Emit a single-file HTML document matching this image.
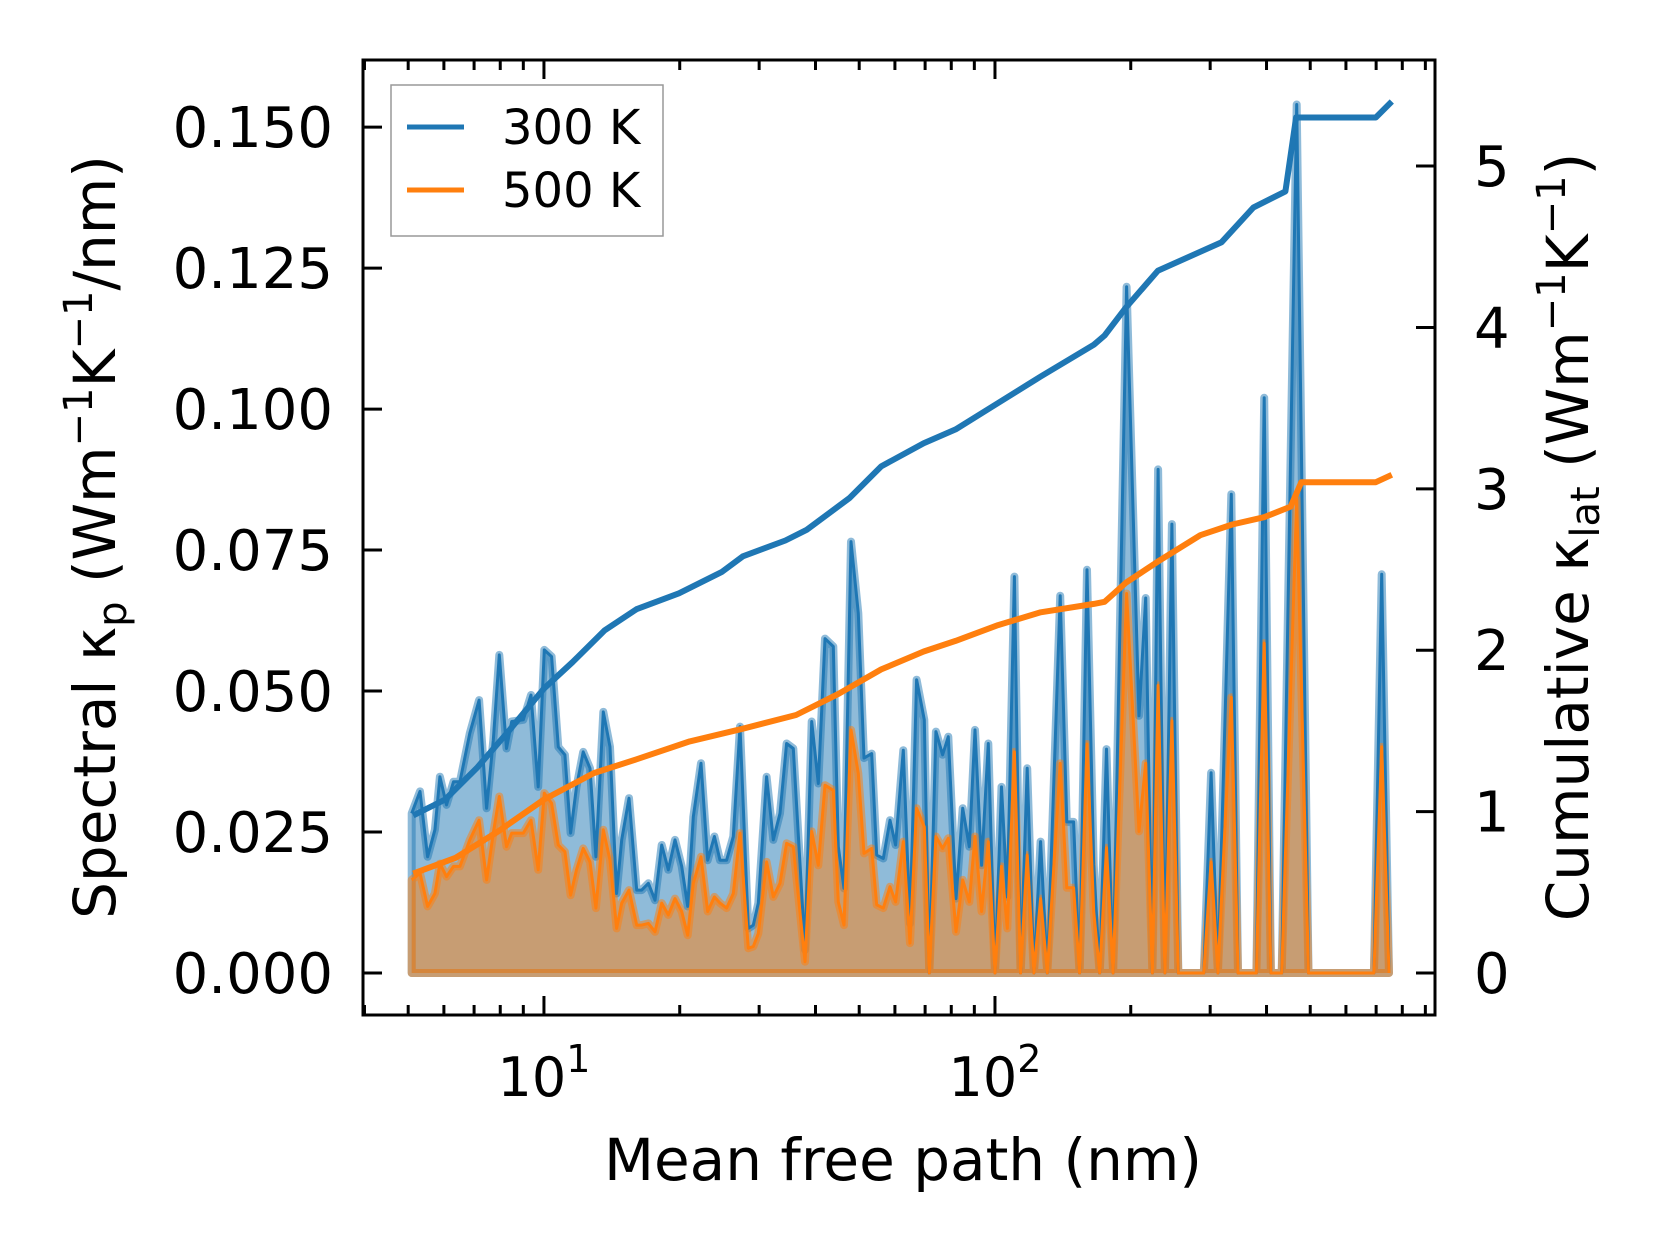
<!DOCTYPE html>
<html><head><meta charset="utf-8"><style>
html,body{margin:0;padding:0;background:#fff;}
svg{display:block;font-family:"DejaVu Sans","Liberation Sans",sans-serif;}
</style></head><body>
<svg id="chart" width="1660" height="1254" viewBox="0 0 1660 1254">
<g id="plot"></g>
<g id="axes"></g>
</svg>
<script>
// Spectral data (mean free path in nm, spectral kappa)
const mfp = [5.09,5.31,5.52,5.73,5.88,6.08,6.30,6.51,6.85,7.18,7.46,7.72,7.96,8.26,8.48,9.00,9.36,9.71,10.02,10.40,10.76,11.13,11.46,11.81,12.22,12.65,13.04,13.54,14.01,14.49,14.87,15.44,16.06,16.47,17.04,17.63,18.24,18.87,19.52,20.20,20.83,21.44,22.29,23.07,23.87,
24.56,25.41,26.29,27.20,28.38,29.12,29.87,31.17,32.25,33.37,34.51,35.71,37.91,39.23,40.58,41.98,43.80,44.94,46.26,47.94,49.77,51.23,53.28,54.66,56.55,58.50,60.22,62.62,64.79,67.04,69.72,71.51,73.98,76.55,78.80,81.95,84.79,87.73,90.30,93.41,96.65,100.0,103.4,106.5,110.4,114.0,117.9,122.0,126.2,130.6,
139.5,144.3,149.4,154.0,160.0,165.5,170.7,176.7,182.8,195.8,208.6,215.9,223.4,230.0,238.1,246.8,254.9,290.4,301.5,312.0,334.2,345.8,379.9,395.2,409.0,432.2,466.7,495.5,692.0,720.0,747.4];
const spec300 = [.0283,.0322,.0206,.0254,.0348,.0298,.0339,.0339,.0425,.0484,.0292,.0413,.0564,.0398,.0446,.0449,.0493,.0330,.0573,.0561,.0401,.0387,.0248,.0330,.0392,.0363,.0206,.0463,.0401,.0141,.0236,.0310,.0147,.0147,.0159,.0129,.0227,.0183,.0236,.0189,.0118,.0277,.0372,.0200,.0242,
.0200,.0200,.0242,.0437,.0079,.0085,.0124,.0348,.0236,.0283,.0407,.0398,.0041,.0446,.0336,.0593,.0579,.0224,.0150,.0765,.0638,.0381,.0389,.0209,.0203,.0271,.0227,.0395,.0088,.0520,.0449,0,.0428,.0387,.0419,.0132,.0292,.0224,.0431,.0191,.0407,0,.0330,.0135,.0703,0,.0363,0,.0233,0,
.0669,.0268,.0268,0,.0715,.0192,0,.0397,0,.1217,.0456,.0665,0,.0893,0,.0796,0,0,.0355,0,.0849,0,0,.1020,0,0,.1540,0,0,.0707,0];
const spec500 = [.0165,.0177,.0118,.0141,.0194,.0171,.0189,.0189,.0236,.0271,.0165,.0248,.0313,.0224,.0248,.0248,.0271,.0183,.0319,.0301,.0227,.0215,.0138,.0183,.0221,.0197,.0115,.0254,.0200,.0079,.0124,.0147,.0085,.0085,.0088,.0073,.0124,.0103,.0132,.0109,.0067,.0159,.0206,.0109,.0135,
.0124,.0115,.0141,.0248,.0044,.0047,.0070,.0197,.0135,.0159,.0230,.0224,.0020,.0251,.0191,.0333,.0324,.0126,.0085,.0431,.0354,.0212,.0221,.0121,.0115,.0153,.0126,.0233,.0053,.0292,.0259,0,.0242,.0221,.0239,.0073,.0165,.0126,.0242,.0109,.0233,0,.0189,.0079,.0392,0,.0209,0,.0132,0,
.0372,.0151,.0151,0,.0406,.0109,0,.0222,0,.0673,.0251,.0372,0,.0510,0,.0447,0,0,.0197,0,.0489,0,0,.0585,0,0,.0840,0,0,.0401,0];
// Cumulative data
const cumMfp300 = [5.13,6.04,7.10,8.36,10,11.58,13.63,16.04,19.93,24.77,27.61,34.31,38.24,47.53,55.95,69.5,81.8,101.6,126.3,165.7,175,195.0,229.6,318.0,374.2,440.5,465.2,698.9,758.3];
const cum300 = [0.976,1.075,1.271,1.501,1.763,1.927,2.123,2.254,2.353,2.484,2.582,2.680,2.746,2.942,3.139,3.283,3.368,3.532,3.696,3.893,3.95,4.122,4.351,4.528,4.744,4.843,5.301,5.301,5.400];
const cumMfp500 = [5.13,6.37,7.92,10,12.9,16.04,21.04,27.61,36.23,45.0,55.95,69.5,81.8,101.6,126.3,165.7,175,195.0,229.6,285.2,335.8,395.1,452.6,477.8,698.9,758.3];
const cum500 = [0.616,0.714,0.878,1.075,1.239,1.324,1.435,1.514,1.599,1.730,1.881,1.992,2.058,2.156,2.235,2.287,2.30,2.418,2.549,2.713,2.779,2.824,2.890,3.041,3.041,3.087];
const leftTicks = [0,0.025,0.05,0.075,0.1,0.125,0.15];
const leftTickLabels = ["0.000","0.025","0.050","0.075","0.100","0.125","0.150"];
const rightTicks = [0,1,2,3,4,5];
const seriesNames = ["300 K","500 K"];

const L=363,R=1435,T=60,B=1015;
const xMin=3.97,xMax=945.4, yMin=-0.00745,yMax=0.1619, y2Min=-0.26,y2Max=5.657;
const sx=v=>L+(Math.log10(v)-Math.log10(xMin))/(Math.log10(xMax)-Math.log10(xMin))*(R-L);
const sy=v=>B-(v-yMin)/(yMax-yMin)*(B-T);
const sy2=v=>B-(v-y2Min)/(y2Max-y2Min)*(B-T);
const NS="http://www.w3.org/2000/svg";
const plot=document.getElementById('plot'), axes=document.getElementById('axes');
function mk(tag,attrs,parent){const e=document.createElementNS(NS,tag);for(const k in attrs)e.setAttribute(k,attrs[k]);parent.appendChild(e);return e;}

function area(vals,color){
  let d='M'+sx(mfp[0])+','+sy(0);
  mfp.forEach((m,i)=>{d+=' L'+sx(m).toFixed(1)+','+sy(vals[i]).toFixed(1);});
  d+=' L'+sx(mfp[mfp.length-1])+','+sy(0)+' Z';
  const p=mk('path',{d:d,fill:color,'fill-opacity':0.5,stroke:color,'stroke-opacity':0.5,'stroke-width':8,'stroke-linejoin':'round'},plot);
  
  
}
function line(xs,ys,scale,color,w,name){
  const d=xs.map((m,i)=>(i?'L':'M')+sx(m).toFixed(1)+','+scale(ys[i]).toFixed(1)).join(' ');
  const p=mk('path',{d:d,fill:'none',stroke:color,'stroke-width':w,'stroke-linejoin':'round'},plot);
  
  
}
area(spec300,'#1f77b4');

area(spec500,'#ff7f0e');

line(mfp,spec300,sy,'#1f77b4',3,'spectral-300k-line');
line(mfp,spec500,sy,'#ff7f0e',3,'spectral-500k-line');
line(cumMfp300,cum300,sy2,'#1f77b4',6,'cumulative-300k-line');
line(cumMfp500,cum500,sy2,'#ff7f0e',6,'cumulative-500k-line');

// frame
const fr=mk('rect',{x:L,y:T,width:R-L,height:B-T,fill:'none',stroke:'#000','stroke-width':3},axes);


function tick(x1,y1,x2,y2,w){mk('line',{x1:x1,y1:y1,x2:x2,y2:y2,stroke:'#000','stroke-width':w||3},axes);}
function text(x,y,s,anchor,size,name){const t=mk('text',{x:x,y:y,'text-anchor':anchor,'font-size':size,fill:'#000'},axes);t.textContent=s;
  
  
  return t;}
leftTicks.forEach((v,i)=>{const y=sy(v);tick(L,y,L+19,y);text(333,y+20,leftTickLabels[i],'end',56,'left-tick-label');});
rightTicks.forEach(v=>{const y=sy2(v);tick(R,y,R-19,y);text(1474,y+20,String(v),'start',56,'right-tick-label');});
for(let dec=1;dec<=100;dec*=10){for(let k=1;k<10;k++){const v=dec*k;if(v<xMin||v>xMax)continue;const x=sx(v);const len=(k===1)?19:10;tick(x,B,x,B-len);tick(x,T,x,T+len);}}
[10,100].forEach((v,i)=>{const t=text(sx(v),1096,'10','middle',54,'x-tick-label');const s=document.createElementNS(NS,'tspan');s.setAttribute('dy','-24');s.setAttribute('font-size','38');s.textContent=String(i+1);t.appendChild(s);});
text(903,1180,'Mean free path (nm)','middle',58,'x-axis-title');
// y titles
const yt=mk('text',{x:0,y:0,'text-anchor':'middle','font-size':58,transform:'translate(115,537) rotate(-90)'},axes);


yt.innerHTML='Spectral κ<tspan font-size="40" dy="11">p</tspan><tspan dy="-11"> (Wm</tspan><tspan font-size="40" dy="-23">−1</tspan><tspan dy="23">K</tspan><tspan font-size="40" dy="-23">−1</tspan><tspan dy="23">/nm)</tspan>';
const yt2=mk('text',{x:0,y:0,'text-anchor':'middle','font-size':58,transform:'translate(1588,537) rotate(-90)'},axes);


yt2.innerHTML='Cumulative κ<tspan font-size="40" dy="11">lat</tspan><tspan dy="-11"> (Wm</tspan><tspan font-size="40" dy="-23">−1</tspan><tspan dy="23">K</tspan><tspan font-size="40" dy="-23">−1</tspan><tspan dy="23">)</tspan>';
// legend
const lg=mk('g',{},axes);


mk('rect',{x:391,y:85,width:272,height:151,fill:'#fff','fill-opacity':0.8,stroke:'#999','stroke-width':1.5},lg);
const cols=['#1f77b4','#ff7f0e'];
seriesNames.forEach((n,i)=>{const y=127+i*63;mk('line',{x1:407,y1:y,x2:464,y2:y,stroke:cols[i],'stroke-width':5},lg);
  const t=mk('text',{x:502,y:y+17,'font-size':48,fill:'#000'},lg);t.textContent=n;
  
  });
</script>
</body></html>
